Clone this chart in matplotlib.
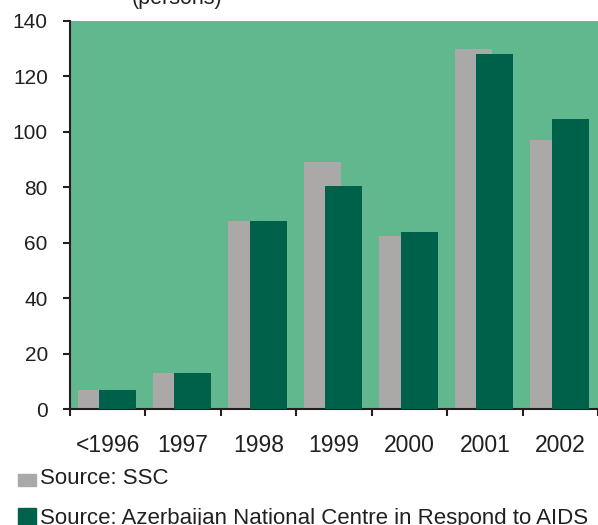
import matplotlib
matplotlib.use("Agg")
import matplotlib.pyplot as plt
import numpy as np
from matplotlib.patches import Rectangle

plt.rcParams["font.family"] = ["Liberation Sans", "DejaVu Sans"]

# 数据
years = ["<1996", "1997", "1998", "1999", "2000", "2001", "2002"]
ssc = [7, 13, 68, 89, 62.5, 130, 97]
ancra = [7, 13, 68, 80.5, 64, 128, 104.5]

BG = "#61b88f"
GRAY = "#aaa9a7"
DARK = "#00614b"
INK = "#231f20"

fig = plt.figure(figsize=(5.98, 5.25), dpi=100)
ax = fig.add_axes([70 / 598, 115.7 / 525, 528 / 598, 388.3 / 525])
ax.set_facecolor(BG)

x = np.arange(len(years))
w = 0.49
ax.bar(x - 0.155, ssc, width=w, color=GRAY, zorder=2)
ax.bar(x + 0.13, ancra, width=w, color=DARK, zorder=3)

ax.set_xlim(-0.5, len(years) - 0.5)
ax.set_ylim(0, 140)
ax.set_yticks(range(0, 141, 20))

# 类别边界刻度 + 居中标签
ax.set_xticks(np.arange(-0.5, len(years)), labels=[""] * (len(years) + 1))
ax.set_xticks(x, labels=years, minor=True)
ax.tick_params(axis="x", which="major", direction="out", length=5, width=1.5, color=INK)
ax.tick_params(axis="x", which="minor", length=0, pad=18, labelsize=16.5, labelcolor=INK)
ax.tick_params(axis="y", direction="out", length=5, width=1.5, color=INK,
               pad=11, labelsize=15, labelcolor=INK)

for s in ("top", "right"):
    ax.spines[s].set_visible(False)
for s in ("left", "bottom"):
    ax.spines[s].set_linewidth(1.5)
    ax.spines[s].set_color(INK)

# 标题（顶部被裁切）
fig.text(177 / 598, 1 - 4 / 525, "(persons)", ha="center", va="baseline",
         fontsize=15.5, color=INK)

# 图例
fig.add_artist(Rectangle((18 / 598, 1 - 486 / 525), 17.5 / 598, 12.5 / 525,
                         transform=fig.transFigure, color=GRAY))
fig.text(40 / 598, 1 - 484 / 525, "Source: SSC", ha="left", va="baseline",
         fontsize=16, color=INK)
fig.add_artist(Rectangle((18 / 598, 0), 17.5 / 598, 17 / 525,
                         transform=fig.transFigure, color=DARK))
fig.text(40 / 598, 1 - 524 / 525,
         "Source: Azerbaijan National Centre in Respond to AIDS",
         ha="left", va="baseline", fontsize=16, color=INK)

fig.savefig("out.png", dpi=100)
